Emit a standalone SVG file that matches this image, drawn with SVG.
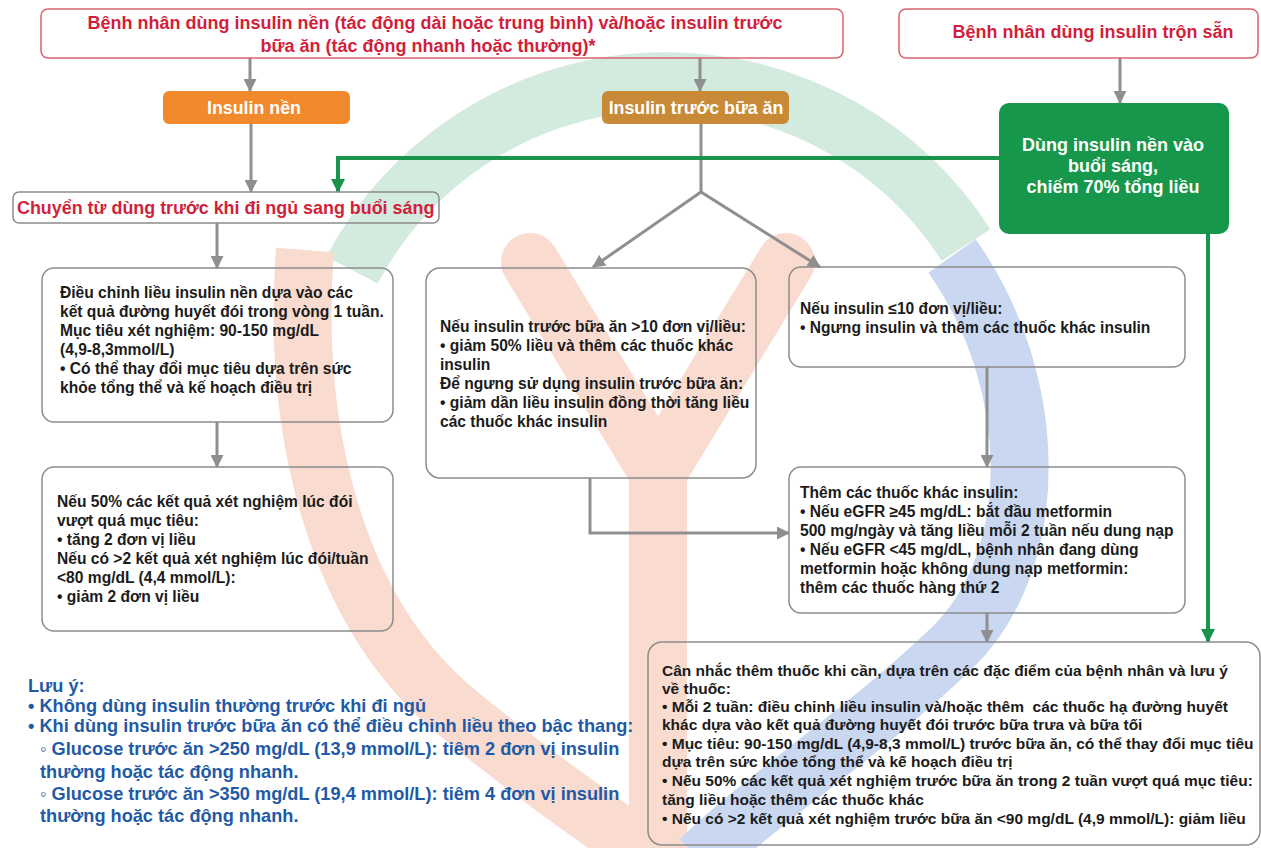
<svg xmlns="http://www.w3.org/2000/svg" width="1261" height="848" viewBox="0 0 1261 848">
<style>
.t{font-family:'Liberation Sans',Arial,sans-serif;font-weight:bold}
.rb{fill:none;stroke:#d9646e;stroke-width:1.5}
.gb{fill:none;stroke:#8c8c8c;stroke-width:1.5}
.red{fill:#d21f3c}
.blk{font-size:15.6px;fill:#1b1b1b}
.wht{fill:#ffffff}
.blue{fill:#1f5aa6;font-size:18.2px}
.con{fill:none;stroke:#8f8f8f;stroke-width:3}
.gcon{fill:none;stroke:#18954a;stroke-width:4}
.wm{fill:none;stroke-width:58}
</style>
<defs>
<marker id="ag" markerUnits="userSpaceOnUse" markerWidth="13" markerHeight="13" viewBox="0 0 13 13" refX="12" refY="6.5" orient="auto"><path d="M0,0 L13,6.5 L0,13 z" fill="#8f8f8f"/></marker>
<marker id="agr" markerUnits="userSpaceOnUse" markerWidth="14" markerHeight="14" viewBox="0 0 14 14" refX="13" refY="7" orient="auto"><path d="M0,0 L14,7 L0,14 z" fill="#18954a"/></marker>
</defs>
<rect width="1261" height="848" fill="#ffffff"/>
<g id="watermark">
<path class="wm" stroke="#d3eadf" d="M 352 270 A 356 356 0 0 1 966 245"/>
<path class="wm" stroke="#f9dbd0" d="M 305 250 C 292 420, 330 610, 460 715 S 620 830, 650 860"/>
<path class="wm" stroke="#f9dbd0" stroke-linecap="round" d="M 530 262 L 658 472 L 786 262"/>
<path class="wm" stroke="#f9dbd0" d="M 658 460 L 658 860"/>
<path class="wm" stroke="#c9d7f1" d="M 952 256 C 1040 380, 1045 560, 950 650 S 760 800, 700 860"/>
</g>
<g id="connectors">
<path class="con" marker-end="url(#ag)" d="M250,58 L250,91"/>
<path class="con" marker-end="url(#ag)" d="M700,58 L700,91"/>
<path class="con" marker-end="url(#ag)" d="M1120,58 L1120,103"/>
<path class="con" marker-end="url(#ag)" d="M251,124 L251,192"/>
<path class="con" d="M701,124 L701,192"/>
<path class="con" marker-end="url(#ag)" d="M701,192 L593,267"/>
<path class="con" marker-end="url(#ag)" d="M701,192 L820,267"/>
<path class="con" marker-end="url(#ag)" d="M217,223 L217,268"/>
<path class="con" marker-end="url(#ag)" d="M217,422 L217,467"/>
<path class="con" marker-end="url(#ag)" d="M590,478 L590,533 L789,533"/>
<path class="con" marker-end="url(#ag)" d="M987,367 L987,467"/>
<path class="con" marker-end="url(#ag)" d="M987,613 L987,642"/>
<path class="gcon" marker-end="url(#agr)" d="M1000,158 L338,158 L338,192"/>
<path class="gcon" marker-end="url(#agr)" d="M1208,234 L1208,642"/>
</g>
<g id="n-top-left">
<rect class="rb" x="41" y="9" width="802" height="49" rx="7"/>
<text class="t red" font-size="18" text-anchor="middle"><tspan x="435" y="29">Bệnh nhân dùng insulin nền (tác động dài hoặc trung bình) và/hoặc insulin trước</tspan><tspan x="428" y="52">bữa ăn (tác động nhanh hoặc thường)*</tspan></text>
</g>
<g id="n-top-right">
<rect class="rb" x="899" y="9" width="359" height="49" rx="7"/>
<text class="t red" font-size="18" text-anchor="middle" x="1093" y="38">Bệnh nhân dùng insulin trộn sẵn</text>
</g>
<g id="n-insulin-nen">
<rect x="163" y="91" width="187" height="33" rx="6" fill="#f08a2c"/>
<text class="t wht" font-size="17.8" text-anchor="middle" x="254" y="114">Insulin nền</text>
</g>
<g id="n-insulin-truoc">
<rect x="602" y="91" width="187" height="33" rx="6" fill="#c98a38"/>
<text class="t wht" font-size="17.8" text-anchor="middle" x="696" y="114">Insulin trước bữa ăn</text>
</g>
<g id="n-green">
<rect x="999" y="103" width="230" height="131" rx="10" fill="#17974b"/>
<text class="t wht" font-size="18" text-anchor="middle"><tspan x="1113" y="151">Dùng insulin nền vào</tspan><tspan x="1113" y="172">buổi sáng,</tspan><tspan x="1113" y="193">chiếm 70% tổng liều</tspan></text>
</g>
<g id="n-chuyen">
<rect class="gb" x="13" y="192" width="426" height="31" rx="6"/>
<text class="t red" font-size="17.9" x="17" y="214">Chuyển từ dùng trước khi đi ngủ sang buổi sáng</text>
</g>
<g id="n-dieu-chinh">
<rect class="gb" x="42" y="268" width="351" height="154" rx="12"/>
<text class="t blk"><tspan x="60" y="298">Điều chỉnh liều insulin nền dựa vào các</tspan><tspan x="60" y="317">kết quả đường huyết đói trong vòng 1 tuần.</tspan><tspan x="60" y="336">Mục tiêu xét nghiệm: 90-150 mg/dL</tspan><tspan x="60" y="355">(4,9-8,3mmol/L)</tspan><tspan x="60" y="374">• Có thể thay đổi mục tiêu dựa trên sức</tspan><tspan x="60" y="393">khỏe tổng thể và kế hoạch điều trị</tspan></text>
</g>
<g id="n-neu-50">
<rect class="gb" x="42" y="467" width="351" height="164" rx="12"/>
<text class="t blk"><tspan x="57" y="507">Nếu 50% các kết quả xét nghiệm lúc đói</tspan><tspan x="57" y="526">vượt quá mục tiêu:</tspan><tspan x="57" y="545">• tăng 2 đơn vị liều</tspan><tspan x="57" y="564">Nếu có &gt;2 kết quả xét nghiệm lúc đói/tuần</tspan><tspan x="57" y="583">&lt;80 mg/dL (4,4 mmol/L):</tspan><tspan x="57" y="602">• giảm 2 đơn vị liều</tspan></text>
</g>
<g id="n-middle">
<rect class="gb" x="426" y="268" width="330" height="210" rx="14"/>
<text class="t blk"><tspan x="440" y="332">Nếu insulin trước bữa ăn &gt;10 đơn vị/liều:</tspan><tspan x="440" y="351">• giảm 50% liều và thêm các thuốc khác</tspan><tspan x="440" y="370">insulin</tspan><tspan x="440" y="389">Để ngưng sử dụng insulin trước bữa ăn:</tspan><tspan x="440" y="408">• giảm dần liều insulin đồng thời tăng liều</tspan><tspan x="440" y="427">các thuốc khác insulin</tspan></text>
</g>
<g id="n-le10">
<rect class="gb" x="789" y="267" width="396" height="100" rx="12"/>
<text class="t blk"><tspan x="800" y="314">Nếu insulin ≤10 đơn vị/liều:</tspan><tspan x="800" y="333">• Ngưng insulin và thêm các thuốc khác insulin</tspan></text>
</g>
<g id="n-them">
<rect class="gb" x="789" y="467" width="396" height="146" rx="12"/>
<text class="t blk"><tspan x="800" y="498">Thêm các thuốc khác insulin:</tspan><tspan x="800" y="517">• Nếu eGFR ≥45 mg/dL: bắt đầu metformin</tspan><tspan x="800" y="536">500 mg/ngày và tăng liều mỗi 2 tuần nếu dung nạp</tspan><tspan x="800" y="555">• Nếu eGFR &lt;45 mg/dL, bệnh nhân đang dùng</tspan><tspan x="800" y="574">metformin hoặc không dung nạp metformin:</tspan><tspan x="800" y="593">thêm các thuốc hàng thứ 2</tspan></text>
</g>
<g id="n-can-nhac">
<rect class="gb" x="648" y="642" width="612" height="203" rx="14"/>
<text class="t blk" style="font-size:15.5px"><tspan x="662" y="676">Cân nhắc thêm thuốc khi cần, dựa trên các đặc điểm của bệnh nhân và lưu ý</tspan><tspan x="662" y="694">về thuốc:</tspan><tspan x="662" y="712">• Mỗi 2 tuần: điều chỉnh liều insulin và/hoặc thêm&#160; các thuốc hạ đường huyết</tspan><tspan x="662" y="730">khác dựa vào kết quả đường huyết đói trước bữa trưa và bữa tối</tspan><tspan x="662" y="749">• Mục tiêu: 90-150 mg/dL (4,9-8,3 mmol/L) trước bữa ăn, có thể thay đổi mục tiêu</tspan><tspan x="662" y="767">dựa trên sức khỏe tổng thể và kế hoạch điều trị</tspan><tspan x="662" y="786">• Nếu 50% các kết quả xét nghiệm trước bữa ăn trong 2 tuần vượt quá mục tiêu:</tspan><tspan x="662" y="805">tăng liều hoặc thêm các thuốc khác</tspan><tspan x="662" y="824">• Nếu có &gt;2 kết quả xét nghiệm trước bữa ăn &lt;90 mg/dL (4,9 mmol/L): giảm liều</tspan></text>
</g>
<g id="notes">
<text class="t blue"><tspan x="28" y="692">Lưu ý:</tspan><tspan x="28" y="712">• Không dùng insulin thường trước khi đi ngủ</tspan><tspan x="28" y="732">• Khi dùng insulin trước bữa ăn có thể điều chỉnh liều theo bậc thang:</tspan><tspan x="40" y="755">◦ Glucose trước ăn &gt;250 mg/dL (13,9 mmol/L): tiêm 2 đơn vị insulin</tspan><tspan x="40" y="778">thường hoặc tác động nhanh.</tspan><tspan x="40" y="800">◦ Glucose trước ăn &gt;350 mg/dL (19,4 mmol/L): tiêm 4 đơn vị insulin</tspan><tspan x="40" y="822">thường hoặc tác động nhanh.</tspan></text>
</g>
</svg>
